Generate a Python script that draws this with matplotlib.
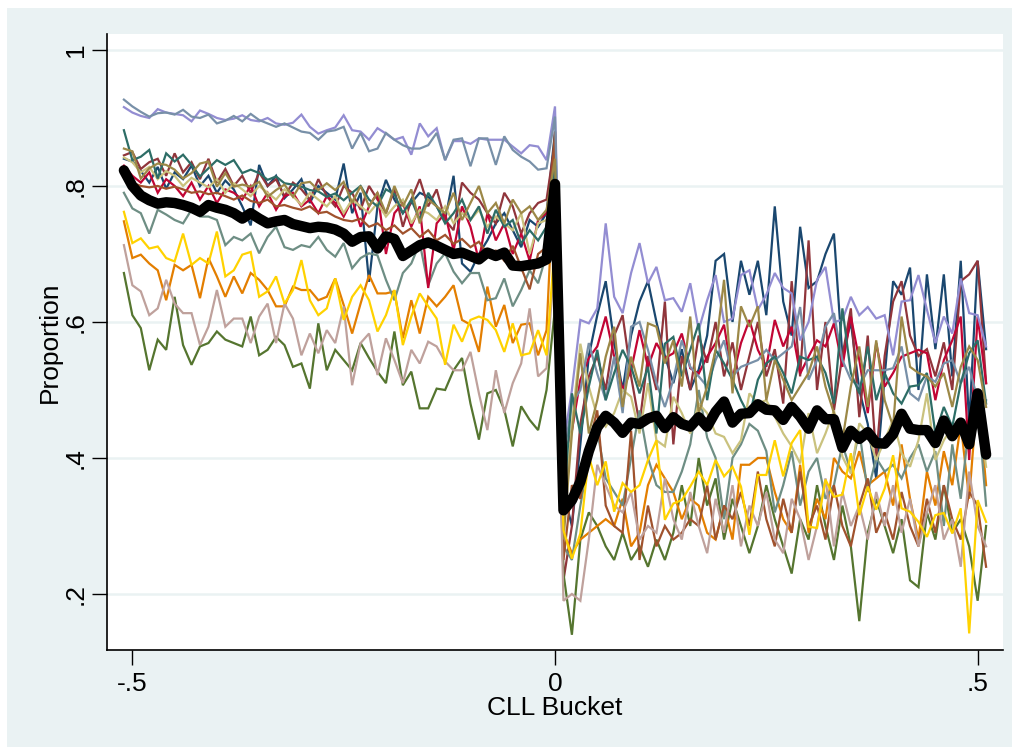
import numpy as np
import matplotlib
matplotlib.use("Agg")
from matplotlib import pyplot as plt
from matplotlib.patches import Rectangle

plt.rcParams['font.family'] = ['Liberation Sans Narrow', 'Liberation Sans', 'DejaVu Sans']

# CLL buckets from -.51 to .51, one every .01
bucket = np.arange(-51, 52) / 100

# each series: 51 buckets below the cutoff, the cutoff bucket (0), 51 buckets above
navy = [0.840, 0.836, 0.822, 0.805, 0.828, 0.796, 0.820, 0.810, 0.830, 0.800,
        0.815, 0.790, 0.808, 0.795, 0.770, 0.742, 0.831, 0.800, 0.815, 0.782,
        0.795, 0.810, 0.775, 0.800, 0.790, 0.780, 0.833, 0.760, 0.790, 0.659,
        0.770, 0.809, 0.780, 0.760, 0.775, 0.790, 0.784, 0.770, 0.750, 0.815,
        0.686, 0.674, 0.700, 0.720, 0.745, 0.760, 0.735, 0.710, 0.750, 0.740, 0.760] + [0.88] + \
       [0.35, 0.30, 0.42, 0.55, 0.61, 0.66, 0.57, 0.50, 0.58, 0.63,
        0.66, 0.60, 0.55, 0.51, 0.56, 0.50, 0.53, 0.58, 0.69, 0.70,
        0.60, 0.69, 0.64, 0.69, 0.61, 0.77, 0.63, 0.58, 0.74, 0.65,
        0.66, 0.70, 0.73, 0.55, 0.60, 0.50, 0.45, 0.37, 0.52, 0.66,
        0.64, 0.68, 0.50, 0.67, 0.56, 0.67, 0.52, 0.69, 0.45, 0.69, 0.56]

maroon = [0.845, 0.850, 0.825, 0.835, 0.840, 0.815, 0.848, 0.820, 0.835, 0.810,
          0.840, 0.805, 0.825, 0.800, 0.815, 0.790, 0.820, 0.800, 0.810, 0.785,
          0.805, 0.795, 0.780, 0.810, 0.785, 0.770, 0.800, 0.790, 0.765, 0.800,
          0.780, 0.760, 0.795, 0.740, 0.780, 0.810, 0.770, 0.795, 0.750, 0.735,
          0.805, 0.790, 0.780, 0.760, 0.745, 0.790, 0.770, 0.730, 0.760, 0.775, 0.780] + [0.865] + \
         [0.22, 0.30, 0.45, 0.52, 0.55, 0.50, 0.58, 0.61, 0.52, 0.45,
          0.55, 0.50, 0.63, 0.42, 0.55, 0.50, 0.58, 0.54, 0.60, 0.52,
          0.57, 0.50, 0.55, 0.60, 0.52, 0.56, 0.48, 0.66, 0.52, 0.72,
          0.50, 0.60, 0.47, 0.55, 0.62, 0.46, 0.58, 0.40, 0.55, 0.63,
          0.66, 0.58, 0.55, 0.56, 0.52, 0.57, 0.50, 0.66, 0.67, 0.69, 0.51]

forest_green = [0.672, 0.610, 0.591, 0.529, 0.574, 0.559, 0.637, 0.566, 0.537, 0.564,
                0.569, 0.586, 0.574, 0.569, 0.564, 0.608, 0.551, 0.559, 0.578, 0.566,
                0.534, 0.539, 0.502, 0.598, 0.529, 0.559, 0.544, 0.529, 0.569, 0.547,
                0.527, 0.510, 0.586, 0.507, 0.527, 0.473, 0.473, 0.502, 0.500, 0.529,
                0.547, 0.480, 0.427, 0.495, 0.500, 0.471, 0.417, 0.476, 0.456, 0.441, 0.500] + [0.62] + \
               [0.23, 0.14, 0.28, 0.32, 0.30, 0.27, 0.25, 0.29, 0.25, 0.27,
                0.24, 0.28, 0.25, 0.29, 0.36, 0.30, 0.40, 0.33, 0.37, 0.28,
                0.34, 0.30, 0.26, 0.30, 0.36, 0.31, 0.27, 0.23, 0.31, 0.28,
                0.36, 0.30, 0.25, 0.33, 0.27, 0.16, 0.29, 0.34, 0.30, 0.26,
                0.31, 0.22, 0.21, 0.32, 0.28, 0.36, 0.29, 0.31, 0.27, 0.19, 0.30]

dkorange = [0.748, 0.694, 0.699, 0.686, 0.676, 0.632, 0.684, 0.676, 0.684, 0.635,
            0.694, 0.667, 0.637, 0.667, 0.642, 0.672, 0.662, 0.647, 0.623, 0.623,
            0.652, 0.647, 0.647, 0.632, 0.637, 0.664, 0.625, 0.583, 0.627, 0.669,
            0.642, 0.642, 0.645, 0.576, 0.632, 0.583, 0.637, 0.623, 0.637, 0.654,
            0.603, 0.596, 0.556, 0.652, 0.593, 0.625, 0.569, 0.596, 0.598, 0.551, 0.588] + [0.85] + \
           [0.29, 0.26, 0.28, 0.29, 0.30, 0.31, 0.30, 0.34, 0.27, 0.29,
            0.36, 0.39, 0.37, 0.35, 0.31, 0.34, 0.33, 0.29, 0.28, 0.33,
            0.28, 0.39, 0.39, 0.40, 0.40, 0.35, 0.31, 0.29, 0.39, 0.29,
            0.34, 0.31, 0.40, 0.38, 0.37, 0.41, 0.36, 0.37, 0.38, 0.33,
            0.42, 0.34, 0.28, 0.38, 0.33, 0.41, 0.36, 0.45, 0.34, 0.50, 0.36]

teal = [0.790, 0.767, 0.760, 0.730, 0.765, 0.758, 0.750, 0.745, 0.765, 0.755,
        0.755, 0.750, 0.713, 0.725, 0.720, 0.730, 0.701, 0.725, 0.740, 0.710,
        0.706, 0.713, 0.710, 0.725, 0.706, 0.696, 0.716, 0.679, 0.694, 0.701,
        0.698, 0.662, 0.632, 0.672, 0.686, 0.716, 0.654, 0.686, 0.701, 0.674,
        0.657, 0.672, 0.672, 0.632, 0.635, 0.664, 0.623, 0.647, 0.676, 0.657, 0.700] + [0.80] + \
       [0.27, 0.25, 0.33, 0.40, 0.44, 0.37, 0.35, 0.33, 0.40, 0.47,
        0.40, 0.36, 0.35, 0.35, 0.38, 0.42, 0.50, 0.43, 0.40, 0.31,
        0.40, 0.42, 0.45, 0.44, 0.41, 0.32, 0.36, 0.41, 0.33, 0.38,
        0.40, 0.34, 0.36, 0.42, 0.38, 0.44, 0.35, 0.40, 0.38, 0.39,
        0.37, 0.40, 0.42, 0.38, 0.41, 0.30, 0.42, 0.34, 0.45, 0.48, 0.33]

cranberry = [0.830, 0.815, 0.805, 0.820, 0.790, 0.810, 0.800, 0.785, 0.805, 0.780,
             0.800, 0.775, 0.795, 0.790, 0.780, 0.800, 0.770, 0.790, 0.765, 0.785,
             0.790, 0.770, 0.780, 0.760, 0.785, 0.775, 0.755, 0.780, 0.740, 0.770,
             0.790, 0.700, 0.760, 0.775, 0.740, 0.770, 0.650, 0.745, 0.760, 0.705,
             0.770, 0.740, 0.690, 0.760, 0.720, 0.745, 0.700, 0.730, 0.690, 0.750, 0.760] + [0.82] + \
            [0.40, 0.44, 0.515, 0.547, 0.564, 0.608, 0.549, 0.500, 0.529, 0.588,
             0.534, 0.569, 0.547, 0.554, 0.583, 0.532, 0.524, 0.549, 0.569, 0.596,
             0.517, 0.569, 0.603, 0.559, 0.534, 0.603, 0.564, 0.593, 0.524, 0.549,
             0.573, 0.564, 0.598, 0.534, 0.608, 0.544, 0.466, 0.569, 0.505, 0.525,
             0.549, 0.554, 0.559, 0.554, 0.485, 0.544, 0.573, 0.608, 0.397, 0.608, 0.510]

lavender = [0.916, 0.908, 0.903, 0.900, 0.913, 0.908, 0.906, 0.904, 0.895, 0.911,
            0.906, 0.900, 0.897, 0.899, 0.904, 0.897, 0.895, 0.900, 0.892, 0.890,
            0.893, 0.905, 0.887, 0.877, 0.882, 0.886, 0.904, 0.882, 0.880, 0.868,
            0.885, 0.877, 0.868, 0.872, 0.846, 0.892, 0.873, 0.885, 0.838, 0.866,
            0.866, 0.862, 0.870, 0.868, 0.868, 0.868, 0.858, 0.848, 0.860, 0.858, 0.838] + [0.917] + \
           [0.42, 0.50, 0.603, 0.598, 0.620, 0.745, 0.637, 0.613, 0.672, 0.716,
            0.657, 0.681, 0.632, 0.635, 0.615, 0.657, 0.588, 0.632, 0.669, 0.600,
            0.605, 0.669, 0.676, 0.618, 0.640, 0.672, 0.650, 0.642, 0.573, 0.600,
            0.662, 0.681, 0.600, 0.603, 0.637, 0.610, 0.622, 0.605, 0.610, 0.551,
            0.630, 0.632, 0.669, 0.618, 0.569, 0.608, 0.583, 0.664, 0.613, 0.610, 0.564]

khaki = [0.842, 0.835, 0.820, 0.828, 0.810, 0.822, 0.815, 0.800, 0.812, 0.805,
         0.798, 0.810, 0.790, 0.804, 0.795, 0.785, 0.800, 0.790, 0.780, 0.795,
         0.785, 0.772, 0.790, 0.780, 0.770, 0.785, 0.760, 0.780, 0.770, 0.760,
         0.775, 0.755, 0.770, 0.780, 0.745, 0.765, 0.760, 0.750, 0.770, 0.745,
         0.760, 0.750, 0.765, 0.740, 0.755, 0.745, 0.735, 0.760, 0.700, 0.745, 0.750] + [0.80] + \
        [0.30, 0.45, 0.568, 0.505, 0.461, 0.446, 0.466, 0.500, 0.490, 0.436,
         0.510, 0.426, 0.417, 0.490, 0.466, 0.436, 0.480, 0.466, 0.436, 0.431,
         0.407, 0.426, 0.495, 0.480, 0.485, 0.461, 0.436, 0.417, 0.392, 0.466,
         0.407, 0.436, 0.470, 0.402, 0.377, 0.451, 0.436, 0.397, 0.426, 0.456,
         0.407, 0.387, 0.426, 0.495, 0.397, 0.426, 0.446, 0.436, 0.436, 0.485, 0.387]

sienna = [0.820, 0.805, 0.800, 0.798, 0.800, 0.796, 0.799, 0.795, 0.790, 0.792,
          0.788, 0.790, 0.785, 0.780, 0.786, 0.778, 0.775, 0.780, 0.770, 0.772,
          0.768, 0.765, 0.770, 0.760, 0.762, 0.755, 0.750, 0.748, 0.752, 0.740,
          0.745, 0.735, 0.742, 0.730, 0.738, 0.725, 0.735, 0.720, 0.728, 0.715,
          0.722, 0.710, 0.718, 0.700, 0.705, 0.690, 0.712, 0.680, 0.648, 0.700, 0.710] + [0.88] + \
         [0.25, 0.36, 0.34, 0.42, 0.47, 0.33, 0.30, 0.29, 0.44, 0.25,
          0.33, 0.27, 0.30, 0.28, 0.29, 0.31, 0.30, 0.36, 0.28, 0.33,
          0.31, 0.35, 0.30, 0.38, 0.31, 0.27, 0.34, 0.29, 0.38, 0.30,
          0.33, 0.28, 0.36, 0.30, 0.27, 0.33, 0.37, 0.29, 0.32, 0.28,
          0.35, 0.30, 0.27, 0.34, 0.29, 0.36, 0.31, 0.28, 0.35, 0.33, 0.24]

emidblue = [0.927, 0.917, 0.909, 0.902, 0.907, 0.908, 0.905, 0.912, 0.902, 0.900,
            0.905, 0.892, 0.896, 0.903, 0.895, 0.906, 0.897, 0.892, 0.887, 0.892,
            0.886, 0.880, 0.878, 0.868, 0.880, 0.882, 0.887, 0.855, 0.878, 0.851,
            0.855, 0.878, 0.868, 0.860, 0.855, 0.855, 0.860, 0.878, 0.838, 0.868,
            0.870, 0.829, 0.870, 0.870, 0.831, 0.873, 0.853, 0.843, 0.836, 0.824, 0.826] + [0.902] + \
           [0.40, 0.48, 0.50, 0.569, 0.524, 0.485, 0.549, 0.466, 0.593, 0.600,
            0.559, 0.510, 0.475, 0.515, 0.573, 0.534, 0.520, 0.505, 0.544, 0.573,
            0.520, 0.534, 0.539, 0.544, 0.559, 0.544, 0.554, 0.564, 0.622, 0.515,
            0.544, 0.593, 0.613, 0.544, 0.515, 0.505, 0.529, 0.529, 0.529, 0.532,
            0.564, 0.495, 0.485, 0.520, 0.512, 0.539, 0.544, 0.510, 0.534, 0.485, 0.485]

emerald = [0.882, 0.838, 0.843, 0.853, 0.811, 0.848, 0.836, 0.846, 0.831, 0.814,
           0.826, 0.838, 0.831, 0.838, 0.819, 0.824, 0.819, 0.809, 0.814, 0.804,
           0.802, 0.799, 0.794, 0.792, 0.784, 0.789, 0.779, 0.790, 0.800, 0.780,
           0.770, 0.795, 0.788, 0.760, 0.780, 0.750, 0.790, 0.770, 0.745, 0.760,
           0.780, 0.750, 0.770, 0.730, 0.765, 0.740, 0.750, 0.715, 0.735, 0.720, 0.740] + [0.83] + \
          [0.33, 0.495, 0.436, 0.505, 0.559, 0.485, 0.525, 0.559, 0.534, 0.495,
           0.534, 0.436, 0.568, 0.578, 0.520, 0.559, 0.598, 0.485, 0.559, 0.539,
           0.515, 0.485, 0.461, 0.515, 0.539, 0.549, 0.525, 0.495, 0.549, 0.544,
           0.549, 0.525, 0.480, 0.620, 0.525, 0.495, 0.564, 0.485, 0.525, 0.495,
           0.480, 0.505, 0.507, 0.525, 0.436, 0.475, 0.446, 0.510, 0.554, 0.573, 0.480]

brown = [0.855, 0.851, 0.811, 0.826, 0.833, 0.831, 0.824, 0.811, 0.819, 0.833,
         0.836, 0.799, 0.819, 0.799, 0.802, 0.799, 0.806, 0.784, 0.794, 0.802,
         0.784, 0.804, 0.806, 0.794, 0.804, 0.794, 0.806, 0.775, 0.800, 0.770,
         0.790, 0.760, 0.800, 0.770, 0.795, 0.745, 0.780, 0.770, 0.760, 0.790,
         0.750, 0.775, 0.800, 0.760, 0.775, 0.745, 0.780, 0.760, 0.770, 0.750, 0.765] + [0.84] + \
        [0.28, 0.436, 0.554, 0.436, 0.485, 0.549, 0.593, 0.475, 0.549, 0.505,
         0.598, 0.593, 0.539, 0.573, 0.505, 0.608, 0.466, 0.505, 0.559, 0.662,
         0.495, 0.623, 0.593, 0.623, 0.485, 0.544, 0.515, 0.485, 0.505, 0.525,
         0.564, 0.505, 0.466, 0.426, 0.505, 0.564, 0.475, 0.573, 0.485, 0.446,
         0.608, 0.534, 0.525, 0.520, 0.505, 0.525, 0.475, 0.534, 0.564, 0.544, 0.475]

erose = [0.713, 0.654, 0.645, 0.610, 0.620, 0.662, 0.627, 0.613, 0.613, 0.566,
         0.593, 0.647, 0.593, 0.605, 0.605, 0.569, 0.608, 0.627, 0.569, 0.627,
         0.605, 0.551, 0.583, 0.554, 0.588, 0.569, 0.623, 0.507, 0.569, 0.583,
         0.522, 0.576, 0.544, 0.510, 0.559, 0.539, 0.571, 0.564, 0.542, 0.529,
         0.529, 0.556, 0.495, 0.441, 0.529, 0.466, 0.510, 0.539, 0.620, 0.520, 0.532] + [0.70] + \
        [0.19, 0.20, 0.19, 0.28, 0.39, 0.36, 0.33, 0.32, 0.35, 0.28,
         0.30, 0.29, 0.37, 0.31, 0.28, 0.35, 0.30, 0.26, 0.34, 0.29,
         0.36, 0.27, 0.33, 0.30, 0.35, 0.28, 0.26, 0.34, 0.31, 0.25,
         0.30, 0.37, 0.27, 0.35, 0.30, 0.33, 0.28, 0.35, 0.30, 0.36,
         0.29, 0.34, 0.27, 0.32, 0.36, 0.28, 0.31, 0.24, 0.38, 0.30, 0.27]

gold = [0.762, 0.716, 0.723, 0.708, 0.711, 0.694, 0.689, 0.730, 0.684, 0.694,
        0.686, 0.733, 0.667, 0.676, 0.699, 0.703, 0.637, 0.645, 0.667, 0.627,
        0.647, 0.691, 0.632, 0.610, 0.620, 0.664, 0.603, 0.637, 0.654, 0.632,
        0.586, 0.610, 0.647, 0.566, 0.608, 0.642, 0.623, 0.605, 0.537, 0.596,
        0.571, 0.603, 0.608, 0.603, 0.588, 0.556, 0.598, 0.551, 0.554, 0.588, 0.551] + [0.72] + \
       [0.294, 0.252, 0.289, 0.402, 0.360, 0.395, 0.321, 0.363, 0.350, 0.360,
        0.397, 0.426, 0.309, 0.333, 0.338, 0.358, 0.380, 0.360, 0.397, 0.373,
        0.387, 0.358, 0.287, 0.375, 0.375, 0.426, 0.373, 0.422, 0.441, 0.299,
        0.297, 0.368, 0.343, 0.346, 0.407, 0.316, 0.358, 0.324, 0.355, 0.404,
        0.326, 0.321, 0.306, 0.284, 0.316, 0.319, 0.289, 0.326, 0.142, 0.338, 0.306]

# overall proportion (thick black line)
overall = [0.823, 0.800, 0.786, 0.779, 0.774, 0.776, 0.775, 0.772, 0.768, 0.762,
           0.772, 0.768, 0.765, 0.760, 0.752, 0.760, 0.752, 0.745, 0.748, 0.750,
           0.744, 0.741, 0.738, 0.740, 0.739, 0.736, 0.730, 0.718, 0.725, 0.726,
           0.708, 0.726, 0.722, 0.697, 0.705, 0.713, 0.717, 0.712, 0.706, 0.700,
           0.702, 0.697, 0.692, 0.702, 0.697, 0.702, 0.683, 0.682, 0.684, 0.686, 0.692] + [0.803] + \
          [0.323, 0.338, 0.365, 0.410, 0.445, 0.462, 0.452, 0.437, 0.452, 0.450,
           0.458, 0.462, 0.444, 0.460, 0.450, 0.446, 0.460, 0.446, 0.468, 0.483,
           0.452, 0.465, 0.466, 0.479, 0.471, 0.470, 0.456, 0.475, 0.461, 0.443,
           0.470, 0.457, 0.457, 0.415, 0.440, 0.428, 0.438, 0.422, 0.421, 0.435,
           0.465, 0.443, 0.441, 0.441, 0.422, 0.455, 0.432, 0.452, 0.420, 0.495, 0.405]

# stata s2color order
series = [
    (navy, '#1a476f'), (maroon, '#90353b'), (forest_green, '#55752f'),
    (dkorange, '#e37e00'), (teal, '#6e8e84'), (cranberry, '#c10534'),
    (lavender, '#938dd2'), (khaki, '#cac27e'), (sienna, '#a0522d'),
    (emidblue, '#7890a8'), (emerald, '#2d6d66'), (brown, '#9c8847'),
    (erose, '#bfa19c'), (gold, '#ffd200'),
]
for vals, _ in series:
    assert len(vals) == len(bucket)
assert len(overall) == len(bucket)

W, H = 1016, 747
fig = plt.figure(figsize=(W / 100, H / 100), dpi=100, facecolor='white')
# graph region
fig.add_artist(Rectangle((7 / W, 0), (W - 11) / W, (H - 8) / H,
                         transform=fig.transFigure, facecolor='#eaf2f3',
                         edgecolor='none', zorder=0))

ax = fig.add_axes([107 / W, (H - 650) / H, (1003 - 107) / W, (650 - 34) / H])
ax.set_facecolor('white')

for vals, col in series:
    ax.plot(bucket, vals, color=col, lw=1.6, solid_joinstyle='miter')
ax.plot(bucket, overall, color='black', lw=7.5, solid_joinstyle='round',
        solid_capstyle='round')

ax.set_xlim(-0.530, 0.530)
ax.set_ylim(0.1176, 1.0235)

ax.set_yticks([0.2, 0.4, 0.6, 0.8, 1.0])
ax.set_yticklabels(['.2', '.4', '.6', '.8', '1'], rotation=90, va='center')
ax.set_xticks([-0.5, 0, 0.5])
ax.set_xticklabels(['-.5', '0', '.5'])
ax.tick_params(axis='both', length=11, width=1, labelsize=19, color='black')
ax.tick_params(axis='y', pad=3)
ax.tick_params(axis='x', pad=5)

ax.grid(True, axis='y', color='#eaf2f3', lw=1.8)
ax.set_axisbelow(True)

for side in ['top', 'right']:
    ax.spines[side].set_visible(False)
for side in ['left', 'bottom']:
    ax.spines[side].set_linewidth(1.2)

ax.set_xlabel('CLL Bucket', fontsize=19, labelpad=0)
ax.set_ylabel('Proportion', fontsize=19, labelpad=1)

fig.savefig('out.png', dpi=100, facecolor=fig.get_facecolor())
